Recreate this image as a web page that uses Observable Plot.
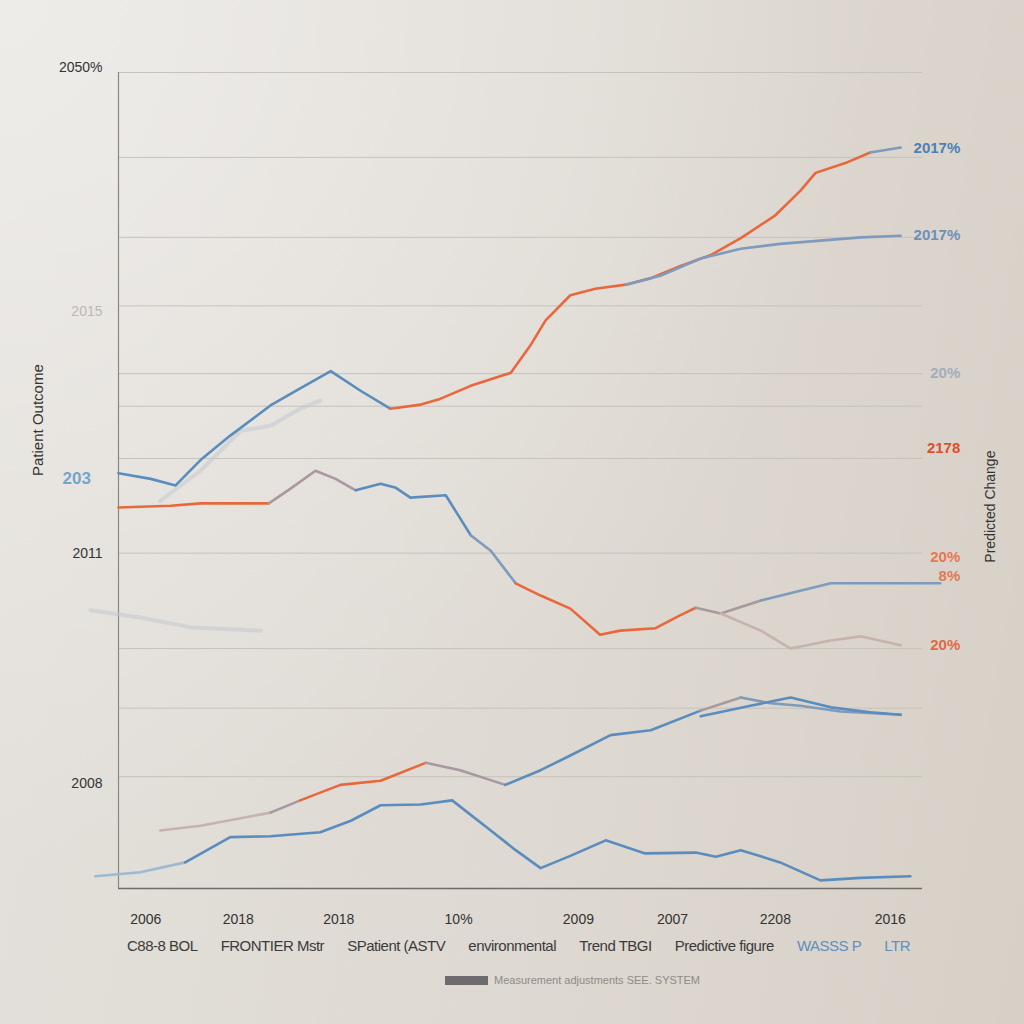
<!DOCTYPE html>
<html><head><meta charset="utf-8">
<script src="https://cdn.jsdelivr.net/npm/d3@7"></script>
<script src="https://cdn.jsdelivr.net/npm/@observablehq/plot@0.6"></script>
<style>
html,body{margin:0;padding:0;}
body{width:1024px;height:1024px;overflow:hidden;position:relative;
background: radial-gradient(ellipse at 0% 0%, rgba(238,236,233,1) 0%, rgba(238,236,233,0) 60%), linear-gradient(100deg,#e4e1dc 0%,#ded9d2 55%,#d7d0c7 100%);
font-family:"Liberation Sans",Arial,sans-serif;}
#chart{position:absolute;left:0;top:0;}
#legend{position:absolute;top:937px;left:127px;width:783px;display:flex;justify-content:space-between;font-size:15px;color:#3b3b3b;white-space:nowrap;letter-spacing:-0.5px;}
#legend .b{color:#5d8fc0;}
#caption{position:absolute;top:974px;left:445px;display:flex;align-items:center;gap:6px;font-size:11px;color:#8e8b88;white-space:nowrap;}
#caption .sw{width:43px;height:9px;background:#6d6b6c;}
g[aria-label="line"]{filter:blur(0.5px);}
</style></head>
<body>
<div id="chart"></div>
<div id="legend"></div>
<div id="caption"></div>
<script>
// ---- data ----
const xTickPos = [3.4, 14.9, 27.4, 42.3, 57.2, 68.9, 81.7, 96.0];
const xTickLabels = ["2006","2018","2018","10%","2009","2007","2208","2016"];
const yTickPos = [100.6, 70.7, 41.1, 12.9];
const yTickLabels = ["2050%","2015","2011","2008"];
const yTickFaint = [false, true, false, false];
const gridValues = [13.7,22.1,29.4,41.1,52.7,59.1,63.1,71.4,79.8,89.6,100];

const aX = [0,4.0,7.1,10.2,13.9,18.9,22.6,26.4,30.1,33.8,37.6,40.0,43.8,48.8,51.2,53.1,56.2,59.3,63.1,66.2,69.9,73.6,77.4,81.7,84.8,86.7,90.4,93.5,97.3];
const aY = [50.9,50.2,49.4,52.5,55.5,59.2,61.3,63.4,61.0,58.8,59.3,60.0,61.6,63.2,66.5,69.6,72.7,73.5,74.0,74.8,76.3,77.6,79.7,82.5,85.5,87.7,88.9,90.2,90.8];
const aTones = [["blue",9],["orange",18],["steel",2]];

const bX = [63.1,67.4,72.4,77.4,82.3,87.3,92.3,97.3];
const bY = [74.0,75.1,77.2,78.4,79.0,79.4,79.8,80.0];
const bTones = [["steel",8]];

const cX = [0,6.5,10.2,18.7,21.4,24.5,27.0,29.5,32.6,34.5,36.3,40.7,43.8,46.3,49.4,52.5,56.2,59.9,62.4,66.8,69.9,71.8,74.9,79.9,84.8,88.6,94.8,102.2];
const cY = [46.7,46.9,47.2,47.2,49.0,51.2,50.2,48.8,49.6,49.1,47.9,48.2,43.3,41.4,37.4,35.9,34.3,31.1,31.6,31.9,33.5,34.4,33.7,35.3,36.5,37.4,37.4,37.4];
const cTones = [["orange",3],["mauve",4],["blue",5],["steel",2],["orange",7],["mauve",2],["steel",5]];

const c2X = [74.9,79.9,83.6,88.6,92.3,97.3];
const c2Y = [33.7,31.6,29.4,30.4,30.9,29.8];
const c2Tones = [["pale",6]];

const eX = [5.2,10.2,15.2,18.9,22.6,27.6,32.6,38.2,42.5,48.1,52.5,56.2,61.2,66.2,72.4,77.4,81.1,84.8,89.8,97.3];
const eY = [7.1,7.7,8.6,9.3,10.8,12.7,13.2,15.4,14.5,12.7,14.5,16.3,18.8,19.4,21.8,23.4,22.7,22.4,21.7,21.3];
const eTones = [["pale",3],["mauve",1],["orange",3],["mauve",2],["blue",5],["mauve",1],["steel",5]];

const e2X = [72.4,78.6,83.6,88.6,93.5,97.3];
const e2Y = [21.1,22.4,23.4,22.2,21.6,21.3];
const e2Tones = [["blue",6]];

const fX = [-2.9,2.7,8.3,13.9,18.9,25.1,28.9,32.6,37.6,41.5,46.3,49.4,52.5,56.2,60.6,65.5,71.8,74.3,77.4,82.3,87.3,92.3,98.5];
const fY = [1.5,2.0,3.2,6.3,6.4,6.9,8.3,10.2,10.3,10.8,7.1,4.7,2.5,4.0,5.9,4.3,4.4,3.9,4.7,3.2,1.0,1.3,1.5];
const fTones = [["lightblue",2],["blue",21]];

const gAX = [5.2,10.2,15.2,18.9,22.6,25.1];
const gAY = [47.5,51.2,56.1,56.7,58.8,59.8];
const gDX = [-3.5,2.7,9.0,17.7];
const gDY = [34.1,33.2,32.0,31.6];

const rightLabels = ["2017%","2017%","20%","2178","20%","8%","20%"];
const rightY = [90.7,80.1,63.1,53.9,40.6,38.3,29.8];
const rightColor = ["#4f7fb5","#6e8fb8","#a5acbd","#de4f2c","#e8784f","#e07a56","#e06a45"];

const leftTag = "203";
const leftTitle = "Patient Outcome";
const rightTitle = "Predicted Change";
const legendItems = ["C88-8 BOL","FRONTIER Mstr","SPatient (ASTV","environmental","Trend TBGI","Predictive figure","WASSS P","LTR"];
const legendBlue = [false,false,false,false,false,false,true,true];
const captionText = "Measurement adjustments SEE. SYSTEM";

const toneColor = {blue:"#5a8dbd", orange:"#e8683c", mauve:"#a8989f", steel:"#7c9bbd", lightblue:"#9dbad2", pale:"#c7b3ae", ghost:"#c3c8d0"};

// ---- helpers ----
function expand(runs){ const t=[]; runs.forEach(([c,n])=>{for(let i=0;i<n;i++) t.push(c);}); return t; }
function segs(name, xs, ys, runs){
  const tones = expand(runs), out=[]; let start=0;
  for(let i=1;i<=xs.length;i++){
    if(i===xs.length || tones[i]!==tones[start]){
      const end=Math.min(i, xs.length-1);
      for(let j=start;j<=end;j++) out.push({k:name+"_"+start, x:xs[j], y:ys[j], c:toneColor[tones[start]]});
      start=i;
    }
  }
  return out;
}
const rows = [].concat(
  segs("a",aX,aY,aTones), segs("b",bX,bY,bTones), segs("c",cX,cY,cTones),
  segs("c2",c2X,c2Y,c2Tones), segs("e",eX,eY,eTones), segs("e2",e2X,e2Y,e2Tones),
  segs("f",fX,fY,fTones)
);
const ghosts = [].concat(segs("gA",gAX,gAY,[["ghost",gAX.length]]), segs("gD",gDX,gDY,[["ghost",gDX.length]]));

const chart = Plot.plot({
  width:1024, height:935,
  marginLeft:118, marginRight:102, marginTop:72, marginBottom:47,
  x:{domain:[0,100], axis:null}, y:{domain:[0,100], axis:null},
  style:{background:"transparent", fontFamily:"'Liberation Sans',Arial,sans-serif", color:"#333"},
  marks:[
    Plot.ruleY(gridValues,{x1:0,x2:100,stroke:"#c6c2bc",strokeWidth:1}),
    Plot.ruleX([0],{y1:0,y2:100,stroke:"#8a8784",strokeWidth:1.2}),
    Plot.ruleY([0],{x1:0,x2:100,stroke:"#6f6c69",strokeWidth:1.5}),
    Plot.line(ghosts,{x:"x",y:"y",z:"k",stroke:"c",strokeWidth:4,strokeOpacity:0.55}),
    Plot.line(rows,{x:"x",y:"y",z:"k",stroke:"c",strokeWidth:2.6,strokeLinejoin:"round",strokeLinecap:"round"}),
    Plot.axisX(xTickPos,{tickSize:0,tickPadding:26,tickFormat:d=>xTickLabels[xTickPos.indexOf(d)],fontSize:14,fill:"#333",label:null}),
    Plot.text(yTickPos,{y:d=>d,frameAnchor:"left",dx:-16,textAnchor:"end",text:(d,i)=>yTickLabels[i],fontSize:14,fill:(d,i)=>yTickFaint[i]?"#bdb8b2":"#333"}),
    Plot.text(rightY,{x:104.7,y:d=>d,text:(d,i)=>rightLabels[i],fill:(d,i)=>rightColor[i],textAnchor:"end",fontSize:15,fontWeight:"bold"}),
    Plot.text([leftTag],{x:-5.2,y:50.2,text:d=>d,fill:"#72a6cc",fontSize:17,fontWeight:"bold"}),
    Plot.text([leftTitle],{x:-9.95,y:57.4,text:d=>d,rotate:-90,fontSize:15,fill:"#333"}),
    Plot.text([rightTitle],{x:108.5,y:46.8,text:d=>d,rotate:-90,fontSize:14,fill:"#333"})
  ]
});
document.getElementById("chart").appendChild(chart);

const lg = document.getElementById("legend");
legendItems.forEach((t,i)=>{const s=document.createElement("span"); s.textContent=t; if(legendBlue[i]) s.className="b"; lg.appendChild(s);});
const cap = document.getElementById("caption");
const sw=document.createElement("span"); sw.className="sw"; cap.appendChild(sw);
const ct=document.createElement("span"); ct.textContent=captionText; cap.appendChild(ct);
</script>
</body></html>
